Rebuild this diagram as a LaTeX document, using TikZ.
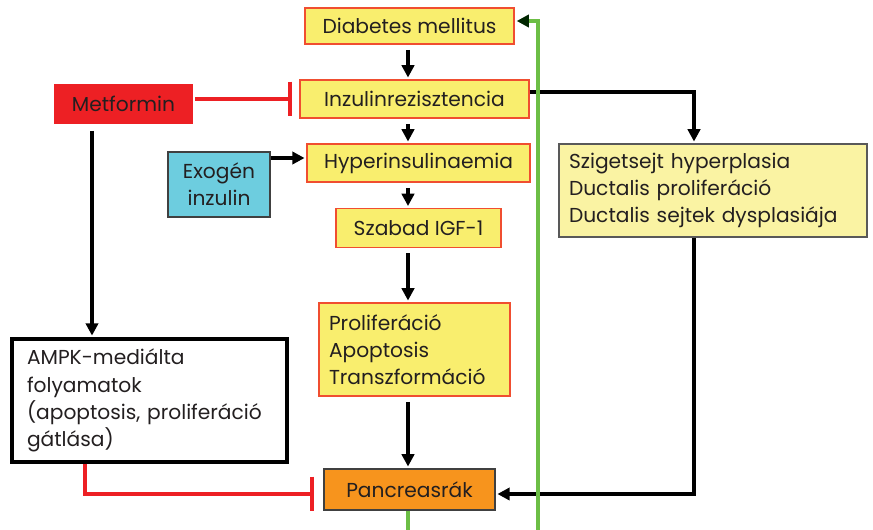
\documentclass[tikz,border=0pt]{standalone}
\usepackage{fontspec}
\setmainfont{Poppins}
\usetikzlibrary{arrows.meta}
\definecolor{boxyellow}{HTML}{F9EE6E}
\definecolor{boxedge}{HTML}{F04E30}
\definecolor{paleyellow}{HTML}{FAF3A3}
\definecolor{metred}{HTML}{ED2024}
\definecolor{exocyan}{HTML}{6DCDDF}
\definecolor{pcorange}{HTML}{F7941D}
\definecolor{linegreen}{HTML}{6CBE45}
\definecolor{textgray}{HTML}{231F20}

\begin{document}
\begin{tikzpicture}[x=0.02cm,y=-0.02cm,line width=1.9pt,font=\fontsize{11.5}{15.5}\selectfont,text=textgray]
	\tikzstyle{box1}=[draw=boxedge,line width=0.8pt,fill=boxyellow,inner sep=0pt];
	\tikzstyle{box2}=[draw=black!65,line width=0.8pt,fill=paleyellow,inner sep=0pt];
	\tikzstyle{arr}=[-{Triangle[length=7pt,width=7pt]},shorten <=3pt,shorten >=1pt];
	\tikzstyle{inh}=[draw=metred,line width=2pt,-{Bar[width=0.7cm,line width=2.3pt]}];
	\tikzstyle{glink}=[draw=linegreen,line width=2pt];

	\useasboundingbox (0,0) rectangle (873,530);
	\coordinate (c) at (408,0);

	% main column
	\node[box1,minimum width=4.18cm,minimum height=0.72cm] (dm)    at (409.5,26)  {Diabetes mellitus};
	\node[box1,minimum width=4.58cm,minimum height=0.76cm] (ir)    at (414.5,99)  {Inzulinrezisztencia};
	\node[box1,minimum width=4.46cm,minimum height=0.76cm] (hyper) at (418.5,163) {Hyperinsulinaemia};
	\node[box1,minimum width=3.3cm,minimum height=0.78cm]  (igf)   at (418.5,228) {Szabad IGF-1};
	\node[box1,minimum width=3.82cm,minimum height=1.86cm,text width=3.42cm,align=left,inner xsep=0.2cm]
		(prolif) at (414.5,349.5) {Proliferáció\\Apoptosis\\Transzformáció};
	\node[draw=black!75,line width=0.8pt,fill=pcorange,minimum width=3.42cm,minimum height=0.82cm]
		(pc) at (409.5,489.5) {Pancreasrák};

	% side boxes
	\node[fill=metred,minimum width=2.8cm,minimum height=0.8cm] (met) at (123.5,104) {Metformin};
	\node[draw=black!75,line width=0.8pt,fill=exocyan,minimum width=2.04cm,minimum height=1.3cm,align=center]
		(exo) at (219,184.5) {Exogén\\inzulin};
	\node[draw=black,line width=1.9pt,fill=white,minimum width=5.5cm,minimum height=2.46cm,text width=4.9cm,align=left,inner xsep=0.3cm]
		(ampk) at (149.5,400.5) {AMPK-mediálta\\folyamatok\\(apoptosis, proliferáció\\gátlása)};
	\node[box2,minimum width=6.16cm,minimum height=1.86cm,text width=5.76cm,align=left,inner xsep=0.2cm]
		(side) at (713,190.5) {Szigetsejt hyperplasia\\Ductalis proliferáció\\Ductalis sejtek dysplasiája};

	% arrows down the column
	\draw[arr] (dm.south -| c)     -- (ir.north -| c);
	\draw[arr] (ir.south -| c)     -- (hyper.north -| c);
	\draw[arr] (hyper.south -| c)  -- (igf.north -| c);
	\draw[arr] (igf.south -| c)    -- (prolif.north -| c);
	\draw[arr] (prolif.south -| c) -- (pc.north -| c);

	\draw[arr,shorten <=0pt] ([yshift=0.53cm]exo.east) -- ([yshift=0.53cm]exo.east -| hyper.west);
	\draw[arr,shorten <=0pt] ([yshift=0.14cm]ir.east) -| ([xshift=-0.38cm]side.north);
	\draw[arr,shorten <=0pt] ([xshift=-0.38cm]side.south) |- ([yshift=-0.09cm]pc.east);
	\draw[arr] ([xshift=-0.63cm]met.south) -- ([xshift=-0.63cm]met.south |- ampk.north);

	% inhibition
	\draw[inh] (met.east |- ir.west) -- ([xshift=-0.14cm]ir.west);
	\draw[inh] ([xshift=-1.29cm]ampk.south) |- ([xshift=-0.18cm,yshift=-0.09cm]pc.west);

	% green links
	\coordinate (gbot1) at (408,530);
	\coordinate (gbot2) at (538,530);
	\draw[glink] (pc.south -| c) -- (gbot1);
	\draw[glink,-{Triangle[length=7pt,width=7pt,color=black!85!green]}] (gbot2) |- ([xshift=0.04cm,yshift=0.1cm]dm.east);
\end{tikzpicture}
\end{document}
